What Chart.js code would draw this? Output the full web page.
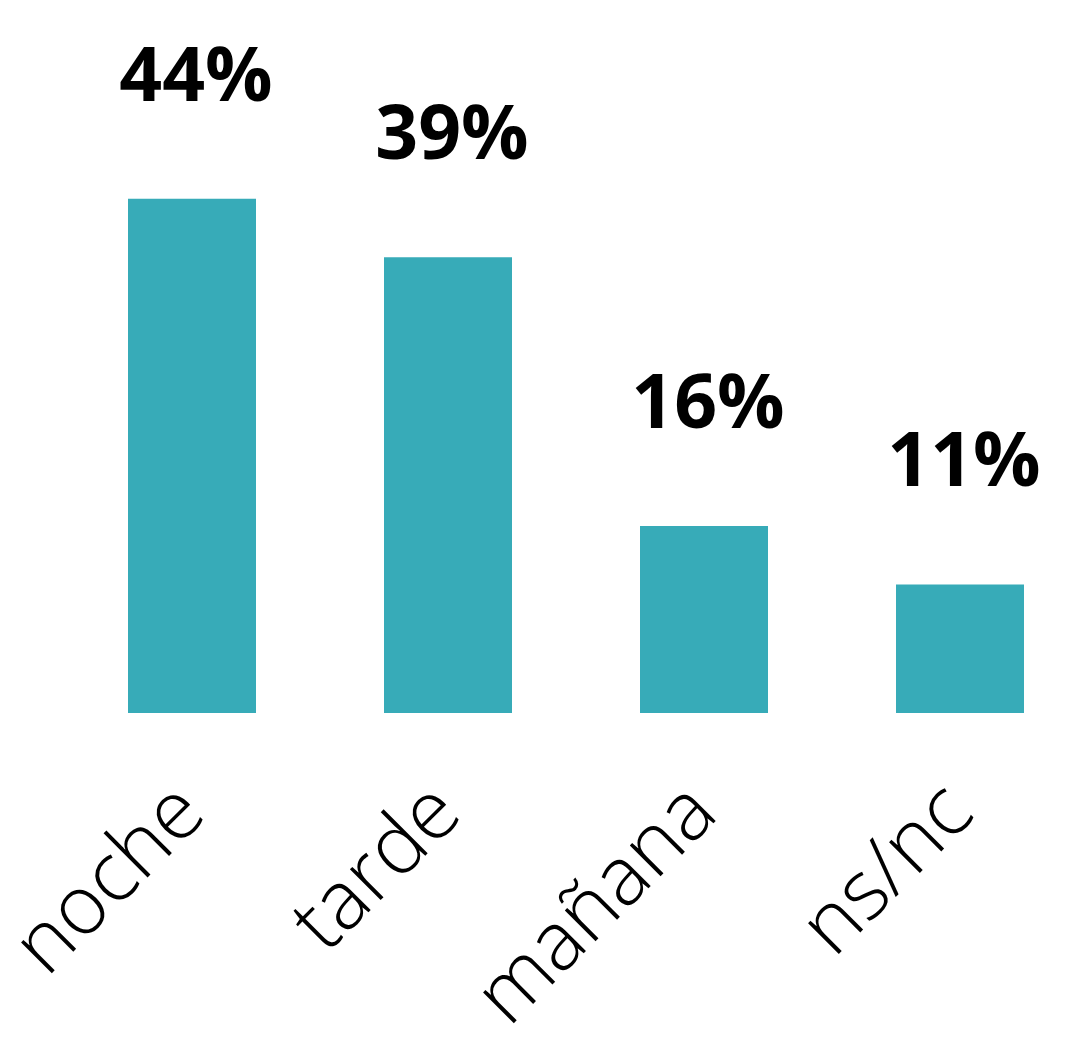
<!DOCTYPE html>
<html>
<head>
<meta charset="utf-8">
<script src="https://cdn.jsdelivr.net/npm/chart.js@4.4.1/dist/chart.umd.min.js"></script>
<style>
  html, body { margin: 0; padding: 0; background: #fff; overflow: hidden; }
  canvas { display: block; }
</style>
</head>
<body>
<canvas id="barChart" width="1088" height="1059"></canvas>
<script>
// values
var categories = ["noche", "tarde", "mañana", "ns/nc"];
var values = [44, 39, 16, 11];
var valueLabels = ["44%", "39%", "16%", "11%"];

var barColor = "rgb(55, 171, 184)";

// draws the percentage above each bar
var valueLabelPlugin = {
  id: "valueLabels",
  afterDatasetsDraw: function (chart) {
    var ctx = chart.ctx;
    var meta = chart.getDatasetMeta(0);
    ctx.save();
    ctx.fillStyle = "#000";
    ctx.font = "700 75px 'Open Sans'";
    ctx.textAlign = "center";
    ctx.textBaseline = "alphabetic";
    meta.data.forEach(function (bar, i) {
      ctx.fillText(valueLabels[i], bar.x + 4, bar.y - 98);
    });
    ctx.restore();
  }
};

document.addEventListener("DOMContentLoaded", function () {
  var ctx = document.getElementById("barChart").getContext("2d");

  new Chart(ctx, {
    type: "bar",
    data: {
      labels: categories,
      datasets: [
        {
          data: values,
          backgroundColor: barColor,
          barPercentage: 0.5,
          categoryPercentage: 1.0
        }
      ]
    },
    options: {
      responsive: false,
      devicePixelRatio: 1,
      animation: false,
      layout: { padding: { left: 64, right: 0, top: 0, bottom: 0 } },
      plugins: {
        legend: { display: false },
        tooltip: { enabled: false }
      },
      scales: {
        x: {
          grid: { display: false },
          border: { display: false },
          ticks: {
            color: "#000",
            maxRotation: 45,
            minRotation: 45,
            padding: 44,
            font: { family: "'Open Sans'", weight: 300, size: 82 }
          },
          afterFit: function (scale) {
            // keep the category width fixed, ignore label overhang
            scale.height = 346;
            scale.paddingLeft = 0;
            scale.paddingRight = 0;
          }
        },
        y: {
          display: false,
          min: 0,
          max: 61
        }
      }
    },
    plugins: [valueLabelPlugin]
  });
});
</script>
</body>
</html>
